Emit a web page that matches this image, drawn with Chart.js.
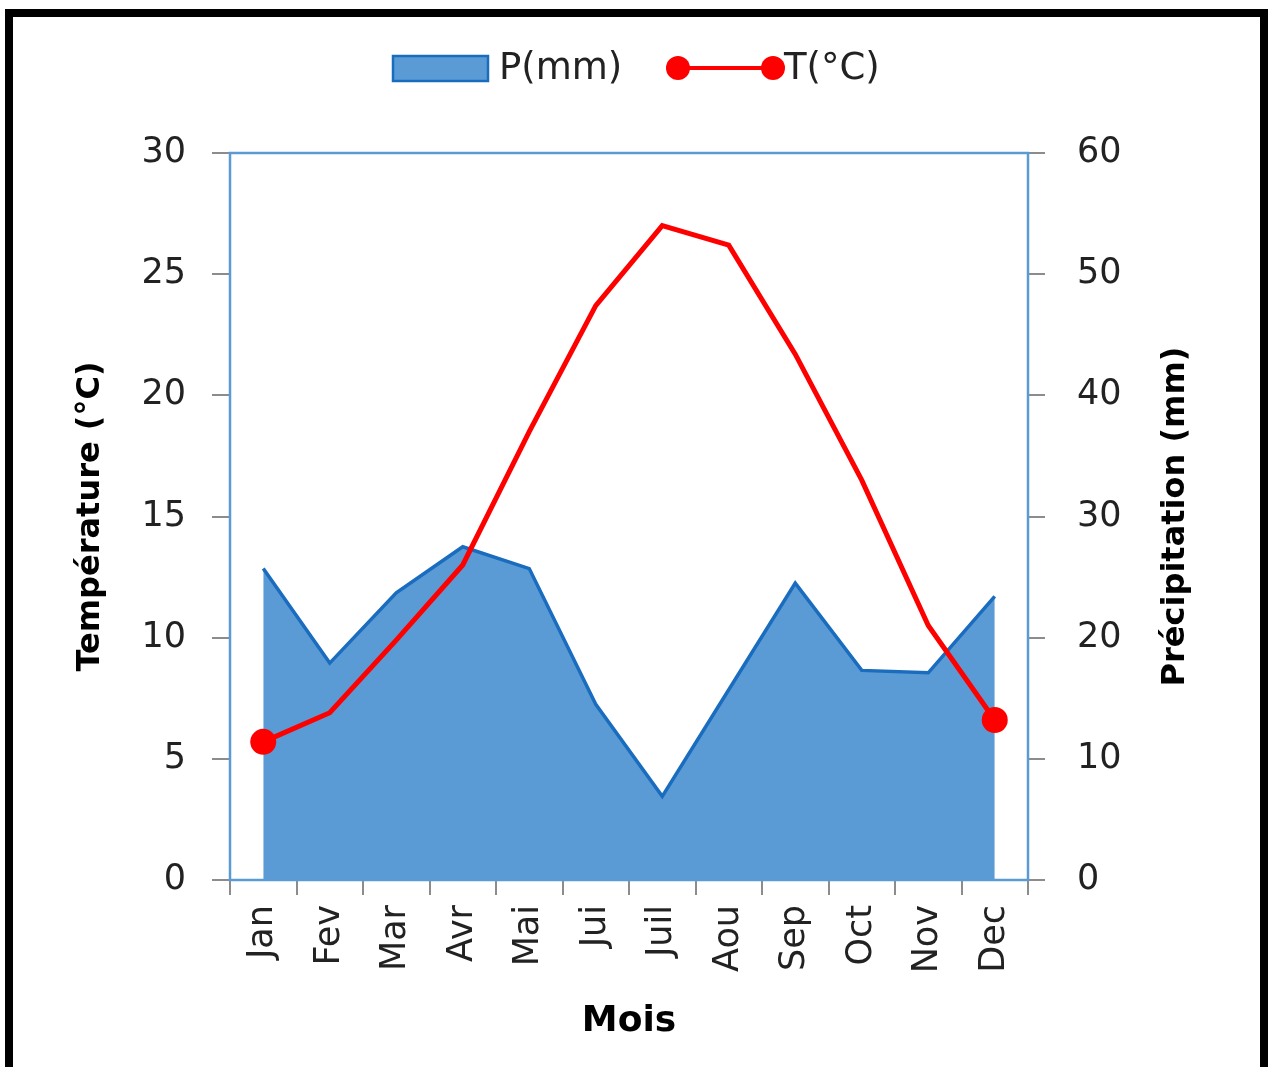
<!DOCTYPE html>
<html>
<head>
<meta charset="utf-8">
<script src="https://cdn.jsdelivr.net/npm/chart.js@4.4.0/dist/chart.umd.min.js"></script>
<style>
  body { margin: 0; background: #fff; }
  canvas { display: block; }
</style>
</head>
<body>
<canvas id="myChart" width="1272" height="1067"></canvas>
<script>
const months = ['Jan', 'Fev', 'Mar', 'Avr', 'Mai', 'Jui', 'Juil', 'Aou', 'Sep', 'Oct', 'Nov', 'Dec'];
const precip = [25.7, 17.9, 23.7, 27.5, 25.7, 14.5, 6.9, 15.7, 24.5, 17.3, 17.1, 23.4];
const temp = [5.7, 6.9, 9.9, 13.0, 18.5, 23.7, 27.0, 26.2, 21.7, 16.5, 10.5, 6.6];
const tempRange = [0, 30, 5];
const precipRange = [0, 60, 10];

const FONT = 'DejaVu Sans';
const BLUE = '#5B9BD5';
const DARK_BLUE = '#1A6CBF';
const RED = '#FF0000';
const TICK_GRAY = '#8C8C8C';

// plot border, black frame, right title and the legend drawn by hand
const decor = {
  id: 'decor',
  beforeDraw(chart) {
    const c = chart.ctx;
    c.save();
    c.fillStyle = '#fff';
    c.fillRect(0, 0, chart.width, chart.height);
    c.restore();
  },
  afterDraw(chart) {
    const c = chart.ctx;
    const a = chart.chartArea;
    c.save();
    c.strokeStyle = BLUE;
    c.lineWidth = 2.5;
    c.strokeRect(a.left, a.top, a.right - a.left, a.bottom - a.top);

    c.strokeStyle = '#000';
    c.lineWidth = 8;
    c.strokeRect(9, 13, 1255, 1100);

    // right axis title reads bottom to top like the left one
    c.save();
    c.translate(1176, (a.top + a.bottom) / 2);
    c.rotate(-Math.PI / 2);
    c.font = 'bold 32px "' + FONT + '"';
    c.fillStyle = '#000';
    c.textAlign = 'center';
    c.textBaseline = 'middle';
    c.fillText('Précipitation (mm)', 0, 0);
    c.restore();

    // legend
    c.fillStyle = BLUE;
    c.fillRect(393, 56, 95, 25);
    c.strokeStyle = DARK_BLUE;
    c.lineWidth = 2.5;
    c.strokeRect(393, 56, 95, 25);
    c.font = '37px "' + FONT + '"';
    c.fillStyle = '#222';
    c.textBaseline = 'middle';
    c.fillText('P(mm)', 499, 69);

    c.strokeStyle = RED;
    c.lineWidth = 4;
    c.beginPath();
    c.moveTo(678, 68);
    c.lineTo(773, 68);
    c.stroke();
    c.fillStyle = RED;
    [678, 773].forEach(x => {
      c.beginPath();
      c.arc(x, 68, 12, 0, Math.PI * 2);
      c.fill();
    });
    c.fillStyle = '#222';
    c.fillText('T(°C)', 784, 69);
    c.restore();
  }
};

const tickFont = { family: FONT, size: 35 };
const titleFont = { family: FONT, size: 32, weight: 'bold' };

const data = {
  labels: months,
  datasets: [{
    label: 'T(°C)',
    data: temp,
    yAxisID: 'y',
    borderColor: RED,
    borderWidth: 5,
    backgroundColor: RED,
    pointBackgroundColor: RED,
    pointBorderWidth: 0,
    pointRadius: temp.map((v, i) => (i === 0 || i === temp.length - 1) ? 13 : 0),
    tension: 0,
    fill: false
  }, {
    label: 'P(mm)',
    data: precip,
    yAxisID: 'y1',
    borderColor: DARK_BLUE,
    borderWidth: 3.5,
    backgroundColor: BLUE,
    pointRadius: 0,
    tension: 0,
    fill: 'origin'
  }]
};

const config = {
  type: 'line',
  data: data,
  plugins: [decor],
  options: {
    responsive: false,
    animation: false,
    layout: { padding: { top: 153, left: 0, right: 0, bottom: 0 } },
    plugins: {
      legend: { display: false },
      tooltip: { enabled: false }
    },
    scales: {
      x: {
        offset: true,
        grid: { offset: true, drawOnChartArea: false, tickLength: 15, color: TICK_GRAY, lineWidth: 2 },
        border: { display: false },
        ticks: { autoSkip: false, minRotation: 90, maxRotation: 90, padding: 10, font: tickFont, color: '#222' },
        title: { display: true, text: 'Mois', font: { family: FONT, size: 36, weight: 'bold' }, color: '#000', padding: { bottom: 24 } },
        afterFit: s => { s.height = 187; }
      },
      y: {
        position: 'left',
        min: tempRange[0],
        max: tempRange[1],
        ticks: { stepSize: tempRange[2], padding: 26, font: tickFont, color: '#222' },
        grid: { drawOnChartArea: false, tickLength: 18, color: TICK_GRAY, lineWidth: 2 },
        border: { display: false },
        title: { display: true, text: 'Température (°C)', font: titleFont, color: '#000', padding: { top: 71 } },
        afterFit: s => { s.width = 230; }
      },
      y1: {
        position: 'right',
        min: precipRange[0],
        max: precipRange[1],
        ticks: { stepSize: precipRange[2], padding: 32, font: tickFont, color: '#222' },
        grid: { drawOnChartArea: false, tickLength: 17, color: TICK_GRAY, lineWidth: 2 },
        border: { display: false },
        afterFit: s => { s.width = 244; }
      }
    }
  }
};

const ctx = document.getElementById('myChart');
const myChart = new Chart(ctx, config);
</script>
</body>
</html>
